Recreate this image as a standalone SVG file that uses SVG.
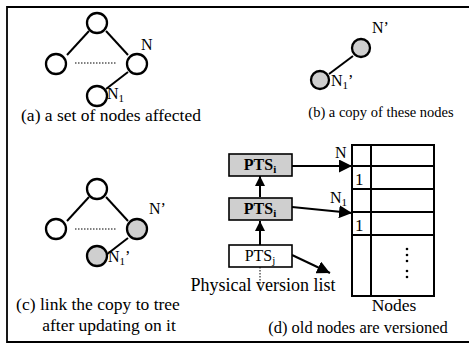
<svg xmlns="http://www.w3.org/2000/svg" width="469" height="348" viewBox="0 0 469 348">
  <defs>
    <marker id="arr" viewBox="0 0 10 10" refX="10" refY="5" markerWidth="10" markerHeight="10" markerUnits="userSpaceOnUse" orient="auto">
      <path d="M0,0 L10,5 L0,10 z" fill="#000"/>
    </marker>
    <marker id="arrBig" viewBox="0 0 10 10" refX="10" refY="5" markerWidth="13" markerHeight="13" markerUnits="userSpaceOnUse" orient="auto">
      <path d="M0,0 L10,5 L0,10 z" fill="#000"/>
    </marker>
  </defs>
  <style>
    text { font-family: "Liberation Serif", "Times New Roman", serif; fill: #000; }
    .cap { font-size: 17.5px; }
    .lbl { font-size: 16px; }
    .sub { font-size: 11px; }
    .node { fill: #fff; stroke: #000; stroke-width: 2.3; }
    .copy { fill: #cfcfcf; stroke: #000; stroke-width: 2.3; }
    .edge { stroke: #000; stroke-width: 2; fill: none; }
    .dots { stroke: #000; stroke-width: 1; stroke-dasharray: 1.5 1.5; fill: none; }
    .box { fill: #fff; stroke: #000; stroke-width: 1.6; }
    .gbox { fill: #cfcfcf; stroke: #000; stroke-width: 1.6; }
    .grid { stroke: #000; stroke-width: 2; fill: none; }
    .frame { stroke: #000; stroke-width: 1.8; fill: none; }
  </style>

  <!-- outer frame (open on the right) -->
  <path class="frame" d="M469,7 H7 V342 H469"/>

  <g id="connectors">
    <!-- (a) tree edges -->
    <line class="edge" x1="67" y1="55" x2="89" y2="31"/>
    <line class="edge" x1="106" y1="31" x2="128" y2="55"/>
    <line class="dots" x1="75" y1="63" x2="116" y2="63"/>
    <line class="edge" x1="128" y1="72" x2="106" y2="89"/>
    <!-- (b) copied edge -->
    <line class="edge" x1="353" y1="56" x2="329" y2="74"/>
    <!-- (c) tree with copy linked in -->
    <line class="edge" x1="67" y1="221" x2="89" y2="197"/>
    <line class="edge" x1="106" y1="197" x2="128" y2="221"/>
    <line class="dots" x1="75" y1="229" x2="116" y2="229"/>
    <line class="edge" x1="128" y1="238" x2="106" y2="255"/>
    <!-- (d) version list and pointers -->
    <line class="edge" x1="260" y1="245" x2="260" y2="221" marker-end="url(#arr)"/>
    <line class="edge" x1="260" y1="197" x2="260" y2="176" marker-end="url(#arr)"/>
    <line class="dots" x1="260" y1="267" x2="260" y2="284"/>
    <line class="edge" x1="292" y1="166" x2="352" y2="166" marker-end="url(#arrBig)"/>
    <line class="edge" x1="292" y1="207" x2="352" y2="213" marker-end="url(#arrBig)"/>
    <line class="edge" x1="292" y1="255" x2="330" y2="273" marker-end="url(#arrBig)"/>
  </g>

  <!-- (a) a set of nodes affected -->
  <g id="a-root"><circle class="node" cx="97" cy="23" r="10"/></g>
  <g id="a-left"><circle class="node" cx="56" cy="64" r="10"/></g>
  <g id="a-N"><circle class="node" cx="137" cy="64" r="10"/><text class="lbl" x="141" y="50">N</text></g>
  <g id="a-N1"><circle class="node" cx="97" cy="96" r="10"/><text class="lbl" x="107" y="99">N<tspan class="sub" dy="3">1</tspan></text></g>
  <text class="cap" x="111" y="121" text-anchor="middle">(a) a set of nodes affected</text>

  <!-- (b) a copy of these nodes -->
  <g id="b-N"><circle class="copy" cx="361" cy="48" r="9"/><text class="lbl" x="372" y="33">N’</text></g>
  <g id="b-N1"><circle class="copy" cx="320" cy="80" r="9"/><text class="lbl" x="331" y="86">N<tspan class="sub" dy="3">1</tspan><tspan dy="-3">’</tspan></text></g>
  <text class="cap" x="381" y="117" text-anchor="middle" style="font-size:14.5px">(b) a copy of these nodes</text>

  <!-- (c) link the copy to tree after updating on it -->
  <g id="c-root"><circle class="node" cx="97" cy="189" r="10"/></g>
  <g id="c-left"><circle class="node" cx="56" cy="229" r="10"/></g>
  <g id="c-N"><circle class="copy" cx="137" cy="229" r="10"/><text class="lbl" x="149" y="214">N’</text></g>
  <g id="c-N1"><circle class="copy" cx="97" cy="256" r="10"/><text class="lbl" x="108" y="262">N<tspan class="sub" dy="3">1</tspan><tspan dy="-3">’</tspan></text></g>
  <text class="cap" x="98" y="310" text-anchor="middle">(c) link the copy to tree</text>
  <text class="cap" x="109" y="331" text-anchor="middle">after updating on it</text>

  <!-- (d) old nodes are versioned -->
  <g id="pts-top"><rect class="gbox" x="229" y="154" width="63" height="22"/><text class="lbl" x="260" y="170" text-anchor="middle" font-weight="bold">PTS<tspan class="sub" dy="3">i</tspan></text></g>
  <g id="pts-mid"><rect class="gbox" x="229" y="198" width="63" height="22"/><text class="lbl" x="260" y="214" text-anchor="middle" font-weight="bold">PTS<tspan class="sub" dy="3">i</tspan></text></g>
  <g id="pts-j"><rect class="box" x="229" y="245" width="63" height="22"/><text class="lbl" x="260" y="261" text-anchor="middle">PTS<tspan class="sub" dy="3">j</tspan></text></g>
  <text class="cap" x="263" y="291" text-anchor="middle" style="font-size:18px">Physical version list</text>
  <text class="lbl" x="335" y="158">N</text>
  <text class="lbl" x="330" y="203">N<tspan class="sub" dy="3">1</tspan></text>

  <g id="nodes-table">
    <rect class="grid" x="352" y="145" width="82" height="151"/>
    <line class="grid" x1="371" y1="145" x2="371" y2="296"/>
    <line class="grid" x1="352" y1="166" x2="434" y2="166"/>
    <line class="grid" x1="352" y1="189" x2="434" y2="189"/>
    <line class="grid" x1="352" y1="212" x2="434" y2="212"/>
    <line class="grid" x1="352" y1="235" x2="434" y2="235"/>
    <text x="355" y="185" style="font-size:17px">1</text>
    <text x="355" y="231" style="font-size:17px">1</text>
    <g fill="#000">
      <circle cx="407" cy="249" r="1.3"/><circle cx="407" cy="255" r="1.3"/><circle cx="407" cy="261" r="1.3"/>
      <circle cx="407" cy="271" r="1.3"/><circle cx="407" cy="277" r="1.3"/>
    </g>
    <text class="cap" x="394" y="311" text-anchor="middle">Nodes</text>
  </g>
  <text class="cap" x="358" y="333" text-anchor="middle" style="font-size:16.5px">(d) old nodes are versioned</text>
</svg>
